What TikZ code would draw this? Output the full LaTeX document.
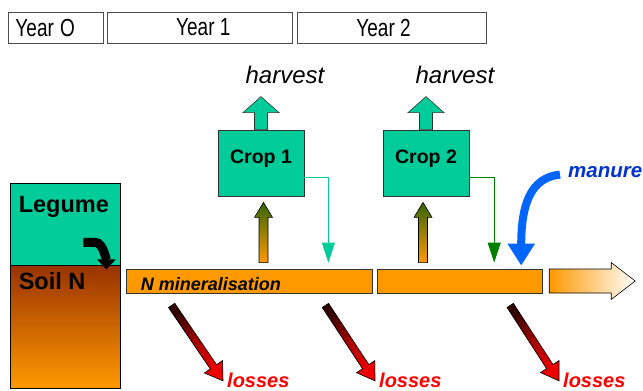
\documentclass[tikz,border=0pt]{standalone}
\usepackage{fontspec}
\usepackage{graphicx}
\setmainfont{Liberation Sans}
\usetikzlibrary{positioning,calc,arrows.meta}

\definecolor{cropgreen}{HTML}{00CC99}
\definecolor{barorange}{HTML}{FF9900}
\definecolor{soilbrown}{HTML}{993300}
\definecolor{leafgreen}{HTML}{336600}
\definecolor{manureblue}{HTML}{0066FF}
\definecolor{manuretext}{HTML}{0033CC}
\definecolor{lossred}{HTML}{EE0000}
\definecolor{lossdark}{HTML}{330000}
\definecolor{residgreen}{HTML}{008000}
\definecolor{outline}{HTML}{333333}

\newcommand{\pxfont}[1]{\fontsize{#1}{#1}\selectfont}
% fat arrow: [style]{start}{tip}{shaft half width}{head half width}{head length}
\newcommand{\fatarrow}[6][]{%
  \coordinate (fa-h) at ($(#3)!#6!(#2)$);
  \path[#1] ($(#2)!#4!90:(#3)$) -- ($(fa-h)!#4!90:(#3)$) -- ($(fa-h)!#5!90:(#3)$) -- (#3)
    -- ($(fa-h)!#5!-90:(#3)$) -- ($(fa-h)!#4!-90:(#3)$) -- ($(#2)!#4!-90:(#3)$) -- cycle;}

\tikzset{
  yearbox/.style={draw=black!70, line width=0.8pt, minimum height=31pt, inner sep=0pt, font={\pxfont{19}}},
  legbox/.style={draw=black, line width=0.8pt, fill=cropgreen, minimum width=110pt, minimum height=82pt, inner sep=0pt},
  soilbox/.style={draw=black, line width=0.8pt, top color=soilbrown, bottom color=barorange, minimum width=110pt, minimum height=123pt, inner sep=0pt},
  bigbold/.style={font={\pxfont{23.5}\bfseries}, inner sep=0pt},
  cropbox/.style={draw=outline, line width=0.8pt, fill=cropgreen, minimum width=86pt, minimum height=66pt, inner sep=0pt, text depth=12pt, font={\pxfont{19.5}\bfseries}},
  bar/.style={draw=outline, line width=0.8pt, fill=barorange, minimum height=24pt, inner sep=0pt},
  bartext/.style={font={\pxfont{18}\bfseries\itshape}, inner sep=0pt},
  harvesttext/.style={font={\pxfont{24}\itshape}, inner sep=0pt},
  losstext/.style={font={\pxfont{20}\bfseries\itshape}, text=red, inner sep=0pt},
  manurelabel/.style={font={\pxfont{20.5}\bfseries\itshape}, text=manuretext, inner sep=0pt},
  harvestarrow/.style={fill=cropgreen, draw=outline, line width=0.6pt},
  uparrow/.style={top color=leafgreen, bottom color=barorange, draw=black, line width=0.6pt},
  lossarrow/.style={top color=lossdark, bottom color=lossred, middle color=lossred!70!black, shading angle=34, draw=black, line width=0.6pt},
  nextyear/.style={left color=barorange, right color=white, draw=black, line width=0.6pt},
  residue1/.style={draw=cropgreen, line width=0.8pt, -{Triangle[width=13pt,length=20pt,fill=cropgreen]}},
  residue2/.style={draw=residgreen, line width=0.8pt, -{Triangle[width=13pt,length=20pt,fill=residgreen]}},
  manurearrow/.style={draw=manureblue, line width=8pt, -{Triangle[width=26pt,length=22pt]}},
  fixarrow/.style={draw=black, line width=9pt, -{Triangle[width=18pt,length=10pt]}}
}

\begin{document}
\begin{tikzpicture}[x=1pt,y=-1pt]
\useasboundingbox (0,0) rectangle (643,391);

% years
\node[yearbox, minimum width=95pt, text width=80pt, align=left] (year0) at (55.5,27.5) {\scalebox{1}[1.3]{Year O}};
\node[yearbox, minimum width=185pt, right=4pt of year0] (year1) {\hspace*{6pt}\scalebox{1}[1.3]{Year 1}};
\node[yearbox, minimum width=189pt, right=4pt of year1] (year2) {\scalebox{1}[1.3]{Year 2}\hspace*{17pt}};

% legume and soil
\node[legbox] (legume) at (65,224) {};
\node[soilbox, below=0pt of legume] (soil) {};
\node[bigbold, anchor=base west] (legumetext) at ($(legume.north west)+(9,30)$) {Legume};
\node[bigbold, anchor=base west] (soiltext) at ($(soil.north west)+(9,24)$) {Soil N};
\coordinate (fixstart) at ($(legume.south east)+(-37,-23)$);
\coordinate (fixtip) at ($(legume.south east)+(-14,4)$);
\draw[fixarrow] (fixstart) -- +(12,0) .. controls +(8,0) and +(0,-8) .. (fixtip);

% mineral N
\node[bar, minimum width=246pt] (bar1) at (249,281) {};
\node[bar, minimum width=165pt, right=5pt of bar1] (bar2) {};
\node[bartext, anchor=base west] (mintext) at ($(bar1.south west)+(15,-2.5)$) {N mineralisation};
\coordinate (next0) at ($(bar2.east)+(6,0)$);
\coordinate (next1) at ($(bar2.east)+(92,0)$);
\fatarrow[nextyear]{next0}{next1}{12pt}{18.5pt}{24pt}

% crops
\node[cropbox] (crop1) at (261,163) {Crop 1};
\node[cropbox] (crop2) at (426,163) {Crop 2};

\coordinate (harvest1tip) at ($(crop1.north)+(0,-33)$);
\coordinate (harvest2tip) at ($(crop2.north)+(0,-33)$);
\fatarrow[harvestarrow]{crop1.north}{harvest1tip}{6.5pt}{18pt}{16pt}
\fatarrow[harvestarrow]{crop2.north}{harvest2tip}{6.5pt}{18pt}{16pt}
\node[harvesttext, anchor=base] (harvest1) at (285,83) {harvest};
\node[harvesttext, anchor=base] (harvest2) at (455,83) {harvest};

\coordinate (uptake1) at ($(crop1.south |- bar1.north)+(2.5,-6)$);
\coordinate (uptake1tip) at ($(crop1.south)+(2.5,6)$);
\coordinate (uptake2) at ($(crop2.south |- bar2.north)+(-3,-6)$);
\coordinate (uptake2tip) at ($(crop2.south)+(-3,6)$);
\fatarrow[uparrow]{uptake1}{uptake1tip}{4.5pt}{9pt}{15pt}
\fatarrow[uparrow]{uptake2}{uptake2tip}{4.5pt}{9pt}{15pt}

\coordinate (resid1) at ($(bar1.north east)+(-44,-6)$);
\coordinate (resid2) at ($(bar2.north east)+(-49,-6)$);
\draw[residue1] ([yshift=-14pt]crop1.east) -| (resid1);
\draw[residue2] ([yshift=-14pt]crop2.east) -| (resid2);

% manure
\node[manurelabel, anchor=base west] (manure) at (568,177) {manure};
\coordinate (manuretip) at ($(bar2.north east)+(-22,-3)$);
\draw[manurearrow] ([xshift=-8pt,yshift=-3pt]manure.west) .. controls +(-30,3) and +(0,-60) .. (manuretip);

% losses
\node[losstext, anchor=base west] (loss1) at (227,387) {losses};
\node[losstext, anchor=base west] (loss2) at (379,387) {losses};
\node[losstext, anchor=base west] (loss3) at (563,387) {losses};
\coordinate (loss1start) at ($(bar1.south west)+(46,12)$);
\coordinate (loss2start) at ($(bar1.south east)+(-47,12)$);
\coordinate (loss3start) at ($(bar2.south east)+(-33,12)$);
\coordinate (loss1tip) at ($(loss1.west)+(-4,1)$);
\coordinate (loss2tip) at ($(loss2.west)+(-4,1)$);
\coordinate (loss3tip) at ($(loss3.west)+(-4,1)$);
\fatarrow[lossarrow]{loss1start}{loss1tip}{3.8pt}{11pt}{17pt}
\fatarrow[lossarrow]{loss2start}{loss2tip}{3.8pt}{11pt}{17pt}
\fatarrow[lossarrow]{loss3start}{loss3tip}{3.8pt}{11pt}{17pt}
\end{tikzpicture}
\end{document}
